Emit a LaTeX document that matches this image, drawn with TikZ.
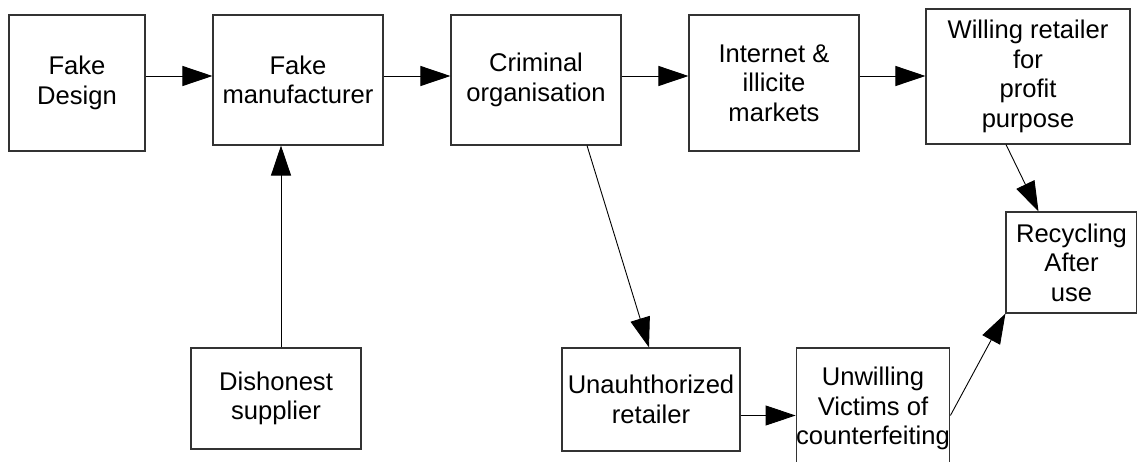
\documentclass[tikz,border=0pt]{standalone}
\usepackage{fontspec}
\setmainfont{Liberation Sans}
\usetikzlibrary{arrows.meta}

\begin{document}
\begin{tikzpicture}[x=1pt,y=-1pt,
        box/.style={draw=black!80,line width=1.1pt,align=center,inner sep=0pt,
            font=\fontsize{25.6}{29.5}\selectfont},
        flow/.style={-{Triangle[length=30pt,width=20pt]},line width=0.9pt}]

  \clip (0,0) rectangle (1137,461);

  \node[box,minimum width=136pt,minimum height=136pt] (design) at (77,83) {Fake\\Design};
  \node[box,minimum width=170pt,minimum height=130pt] (manuf) at (298,80) {Fake\\manufacturer};
  \node[box,minimum width=170pt,minimum height=130pt] (crim) at (536,80) {Criminal\\organisation};
  \node[box,minimum width=170pt,minimum height=136pt] (inet) at (774,83) {Internet \&\\illicite\\markets};
  \node[box,minimum width=204pt,minimum height=135pt] (willing) at (1028,76.5) {Willing retailer\\for\\profit\\purpose};
  \node[box,minimum width=131pt,minimum height=101pt] (recyc) at (1071.5,262.5) {Recycling\\After\\use};
  \node[box,minimum width=170pt,minimum height=101pt] (supp) at (276,398.5) {Dishonest\\supplier};
  \node[box,minimum width=178pt,minimum height=103pt] (unauth) at (651,399.5) {Unauhthorized\\retailer};
  \node[box,minimum width=148pt,minimum height=121pt] (victims) at (873,408.5) {Unwilling\\Victims of\\counterfeiting};

  \coordinate (row) at (0,76);

  \draw[flow] (design.east |- row) -- (manuf.west |- row);
  \draw[flow] (manuf.east |- row) -- (crim.west |- row);
  \draw[flow] (crim.east |- row) -- (inet.west |- row);
  \draw[flow] (inet.east |- row) -- (willing.west |- row);
  \draw[flow] ([xshift=5pt]supp.north) -- ([xshift=5pt]supp.north |- manuf.south);
  \draw[flow] ([xshift=51pt]crim.south) -- ([xshift=-2pt]unauth.north);
  \draw[flow] ([xshift=-22pt]willing.south) -- ([xshift=-33pt]recyc.north);
  \draw[flow] ([yshift=-16pt]unauth.east) -- ([yshift=-16pt]unauth.east -| victims.west);
  \draw[flow] ([yshift=-7pt]victims.east) -- (recyc.south west);

\end{tikzpicture}
\end{document}
